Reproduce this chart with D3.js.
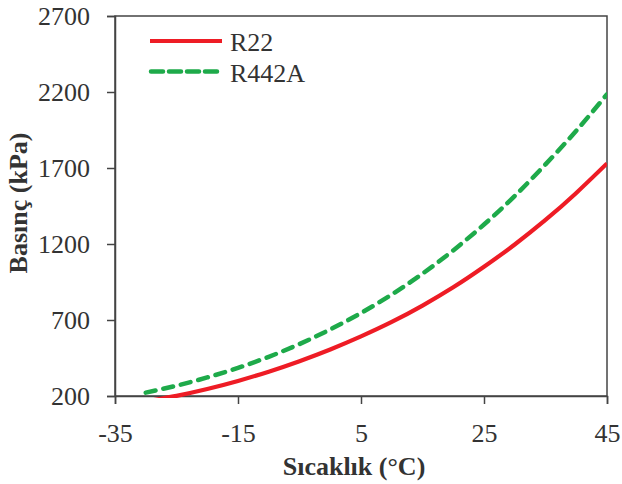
<!DOCTYPE html>
<html><head><meta charset="utf-8">
<script src="https://cdn.jsdelivr.net/npm/d3@7"></script>
<style>body{margin:0;background:#fff}svg{display:block}</style>
</head><body>
<script>
const temps = [-30,-25,-20,-15,-10,-5,0,5,10,15,20,25,30,35,40,45];
const r22 = [164,201,246,299,360,429,506,592,687,795,915,1050,1197,1358,1536,1730];
const r442a = [222,268,322,385,458,542,638,746,868,1005,1158,1328,1516,1724,1945,2185];
const xTicks = [-35,-15,5,25,45];
const yTicks = [200,700,1200,1700,2200,2700];
const seriesNames = ["R22","R442A"];

const W=622,H=484;
const m={l:115,t:16,r:607,b:396};
const svg=d3.select("body").append("svg").attr("width",W).attr("height",H);
const x=d3.scaleLinear().domain([-35,45]).range([m.l,m.r]);
const y=d3.scaleLinear().domain([200,2700]).range([m.b,m.t]);
const font="'Liberation Serif','Times New Roman',serif";
const axCol="#444";

svg.append("defs").append("clipPath").attr("id","clip")
  .append("rect").attr("x",m.l).attr("y",m.t).attr("width",m.r-m.l).attr("height",m.b-m.t+2);

// frame
svg.append("rect").attr("x",m.l).attr("y",m.t).attr("width",m.r-m.l).attr("height",m.b-m.t)
  .attr("fill","none").attr("stroke",axCol).attr("stroke-width",1.5);

const gx=svg.append("g").attr("transform",`translate(0,${m.b})`)
  .call(d3.axisBottom(x).tickValues(xTicks).tickSize(8).tickPadding(20).tickFormat(d=>String(d)));
const gy=svg.append("g").attr("transform",`translate(${m.l},0)`)
  .call(d3.axisLeft(y).tickValues(yTicks).tickSize(8).tickPadding(17).tickFormat(d=>String(d)));
[gx,gy].forEach(g=>{
  g.select(".domain").attr("stroke",axCol).attr("stroke-width",1.5);
  g.selectAll(".tick line").attr("stroke",axCol).attr("stroke-width",1.5);
  g.selectAll("text").attr("font-family",font).attr("font-size",26).attr("fill","#333");
});

const line=d3.line().x((d,i)=>x(temps[i])).y(d=>y(d)).curve(d3.curveNatural);
const plot=svg.append("g").attr("clip-path","url(#clip)");
plot.append("path").datum(r22).attr("d",line).attr("fill","none")
  .attr("stroke","#ee1c25").attr("stroke-width",4.2);
plot.append("path").datum(r442a).attr("d",line).attr("fill","none")
  .attr("stroke","#1eaa4a").attr("stroke-width",4.5).attr("stroke-dasharray","10,8").attr("stroke-linecap","round");

// legend
const lg=svg.append("g");
lg.append("line").attr("x1",150).attr("x2",222).attr("y1",41).attr("y2",41)
  .attr("stroke","#ee1c25").attr("stroke-width",4.2);
lg.append("line").attr("x1",151).attr("x2",222).attr("y1",71.5).attr("y2",71.5)
  .attr("stroke","#1eaa4a").attr("stroke-width",4.5).attr("stroke-dasharray","12,6").attr("stroke-linecap","round");
lg.append("text").attr("x",230).attr("y",51).text(seriesNames[0])
  .attr("font-family",font).attr("font-size",26).attr("fill","#333");
lg.append("text").attr("x",230).attr("y",81.5).text(seriesNames[1])
  .attr("font-family",font).attr("font-size",26).attr("fill","#333");

// titles
svg.append("text").attr("x",354).attr("y",475).attr("text-anchor","middle")
  .attr("font-family",font).attr("font-weight","bold").attr("font-size",26).attr("fill","#333")
  .text("Sıcaklık (°C)");
svg.append("text").attr("transform","translate(27,203) rotate(-90)").attr("text-anchor","middle")
  .attr("font-family",font).attr("font-weight","bold").attr("font-size",26).attr("fill","#333")
  .text("Basınç (kPa)");
</script>
</body></html>
